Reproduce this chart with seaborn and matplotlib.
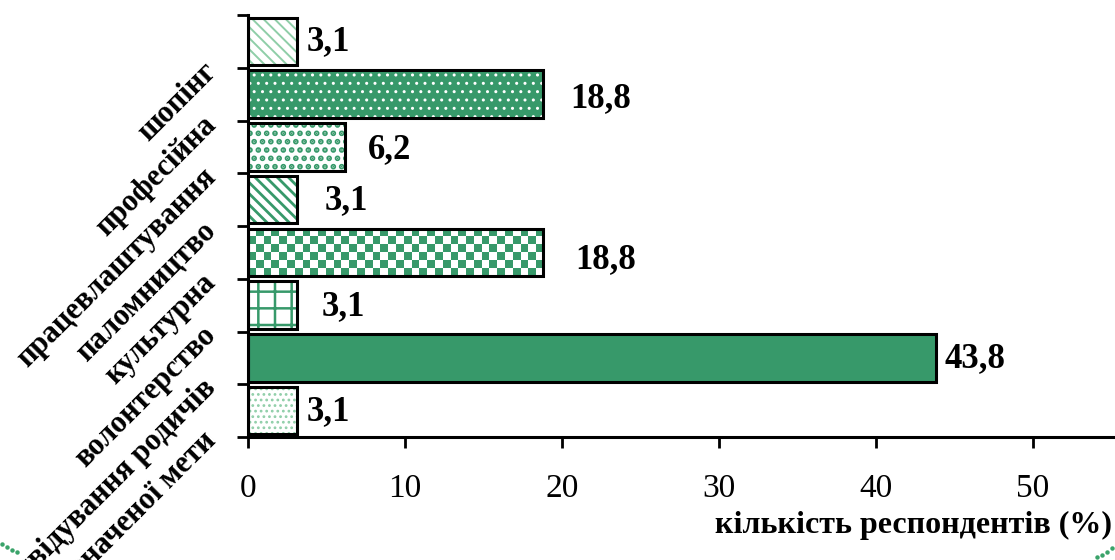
import numpy as np
import pandas as pd
import matplotlib
matplotlib.use("Agg")
import matplotlib.pyplot as plt
from matplotlib.patches import Rectangle
from matplotlib.lines import Line2D
import seaborn as sns

# Survey data: purpose of trips, share of respondents (%)
categories = [
    "шопінг",
    "професійна",
    "працевлаштування",
    "паломництво",
    "культурна",
    "волонтерство",
    "відвідування родичів",
    "без визначеної мети",
]
values = [3.1, 18.8, 6.2, 3.1, 18.8, 3.1, 43.8, 3.1]
value_labels = ["3,1", "18,8", "6,2", "3,1", "18,8", "3,1", "43,8", "3,1"]
x_ticks = [0, 10, 20, 30, 40, 50]
x_title = "кількість респондентів (%)"

# Styling
GREEN = "#37996a"
LIGHT = "#8fcea8"
# (face colour, hatch, hatch colour, hatch line width) per bar
bar_styles = [
    ("white", "\\\\\\", LIGHT, 1.4),
    (GREEN, "..", "white", 1.0),
    ("white", "..", GREEN, 2.8),
    ("white", "\\\\\\", GREEN, 2.0),
    ("white", "checker", GREEN, 0),
    ("white", "+", GREEN, 1.8),
    (GREEN, "", GREEN, 0),
    ("white", "...", LIGHT, 1.2),
]
# label gap from bar end and vertical nudge, in pixels
label_dx = [10, 27, 23, 28, 32, 25, 9, 10]
label_dy = [0, 4, 3, 1, 7, 1, 1, 1]

sns.set_theme(style="white")
plt.rcParams["font.family"] = ["Liberation Serif", "DejaVu Serif"]

W, H = 1115, 560
fig = plt.figure(figsize=(W / 100, H / 100), dpi=100)
ax = fig.add_axes([248 / W, 1 - 437 / H, (W - 248) / W, (437 - 15) / H])

df = pd.DataFrame({"category": categories, "value": values})
sns.barplot(data=df, y="category", x="value", orient="h", color=GREEN,
            saturation=1, width=0.9, edgecolor="none", linewidth=0, ax=ax)

ax.set_xlim(0, (W - 248) / 15.7)
ax.set_ylim(len(categories) - 0.5, -0.5)

bars = list(ax.patches)[:len(categories)]
for p, (fc, hatch, hc, hlw) in zip(bars, bar_styles):
    p.set_facecolor(fc)
    x0, y0 = p.get_x(), p.get_y()
    w, h = p.get_width(), p.get_height()
    if hatch == "checker":
        # checkerboard fill, cells ~7.7 px, clipped to the bar
        (px0, py0), (px1, py1) = ax.transData.transform([(x0, y0), (x0 + w, y0 + h)])
        ncol = max(1, int(round(abs(px1 - px0) / 7.7)))
        nrow = max(1, int(round(abs(py1 - py0) / 7.7)))
        board = (np.add.outer(np.arange(nrow), np.arange(ncol)) % 2).astype(float)
        cmap = matplotlib.colors.ListedColormap(["white", hc])
        im = ax.imshow(board, cmap=cmap, extent=(x0, x0 + w, y0 + h, y0),
                       interpolation="nearest", aspect="auto", zorder=2)
        im.set_clip_path(p)
    elif hatch:
        with plt.rc_context({"hatch.linewidth": hlw, "hatch.color": hc}):
            hp = Rectangle((x0, y0), w, h, facecolor="none", edgecolor=hc,
                           linewidth=0, hatch=hatch, zorder=2)
            if hasattr(hp, "set_hatch_linewidth"):
                hp.set_hatch_linewidth(hlw)
            ax.add_patch(hp)
    ax.add_patch(Rectangle((x0, y0), w, h, facecolor="none", edgecolor="black",
                           linewidth=2.2, zorder=3))

# value labels
for p, txt, dx, dy in zip(bars, value_labels, label_dx, label_dy):
    ax.annotate(txt, xy=(p.get_x() + p.get_width(), p.get_y() + p.get_height() / 2),
                xytext=(dx * 0.72, -dy * 0.72), textcoords="offset points",
                ha="left", va="center", fontsize=25, fontweight="bold",
                color="black", zorder=4, annotation_clip=False)

# axes styling
for side in ("top", "right"):
    ax.spines[side].set_visible(False)
for side in ("left", "bottom"):
    ax.spines[side].set_color("black")
    ax.spines[side].set_linewidth(2.2)
ax.grid(False)

ax.set_xticks(x_ticks)
ax.set_xticklabels([str(t) for t in x_ticks], fontsize=24)
ax.tick_params(axis="x", direction="out", length=8, width=2, color="black",
               pad=18, labelcolor="black", bottom=True)

boundaries = np.arange(-0.5, len(categories), 1.0)
ax.set_yticks(boundaries)
ax.set_yticklabels([""] + categories, fontsize=22, fontweight="bold",
                   rotation=45, ha="right", va="center", rotation_mode="anchor")
ax.tick_params(axis="y", direction="out", length=8, width=2, color="black",
               pad=18, labelcolor="black", left=True)
ax.set_ylabel("")
ax.set_xlabel("")

fig.text(1112 / W, 1 - 533 / H, x_title, ha="right", va="baseline",
         fontsize=23, fontweight="bold", color="black")

# dotted frame corners
for xs, ys in (([2, 7, 12, 17], [544, 547, 550, 552]),
               ([1097, 1102, 1107, 1112], [557, 555, 552, 548])):
    fig.add_artist(Line2D(np.array(xs) / W, 1 - np.array(ys) / H,
                          transform=fig.transFigure, color="#3aa36a",
                          linestyle="none", marker="o", markersize=2.2))

fig.savefig("out.png", dpi=100)
